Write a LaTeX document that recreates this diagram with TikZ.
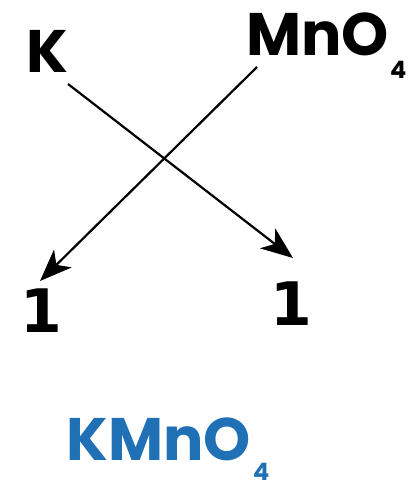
\documentclass[tikz,border=0pt]{standalone}
\usepackage{fontspec}
\setmainfont{Poppins}
\newfontfamily\digitfont{DejaVu Sans}
\usetikzlibrary{arrows.meta}
\definecolor{kblue}{RGB}{32,112,182}
\tikzset{
  lbl/.style={inner sep=0pt, font=\fontsize{60}{60}\selectfont\bfseries},
  num/.style={inner sep=0pt, font=\fontsize{60}{60}\selectfont\digitfont\bfseries},
  sub/.style={inner sep=0pt, font=\fontsize{24}{24}\selectfont\bfseries},
  arr/.style={line width=2.2pt, -{Stealth[length=32pt,width=25pt,inset=9pt]}}
}
\begin{document}
\begin{tikzpicture}[x=1pt,y=-1pt]
\useasboundingbox (0,0) rectangle (408,491);
\node[lbl, anchor=base west] (K) at (26,72) {K};
\node[lbl, anchor=base west] (Mn) at (246,55) {MnO};
\node[sub, anchor=base west] (Mn4) at (390,78) {4};
\node[num, anchor=base west] (oneL) at (20,332) {1};
\node[num, anchor=base west] (oneR) at (270,325) {1};
\node[lbl, anchor=base west, text=kblue] (KM) at (66,460) {KMnO};
\node[sub, anchor=base west, text=kblue] (KM4) at (253,480) {4};
\coordinate (k0) at (68,84);
\coordinate (k1) at (293,258);
\coordinate (m0) at (257,67);
\coordinate (m1) at (40,281);
\draw[arr] (k0) -- (k1);
\draw[arr] (m0) -- (m1);
\end{tikzpicture}
\end{document}
